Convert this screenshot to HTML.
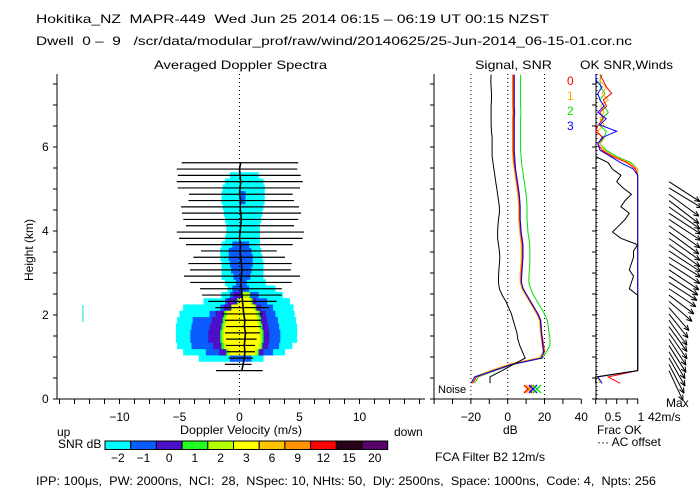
<!DOCTYPE html>
<html><head><meta charset="utf-8"><style>
html,body{margin:0;padding:0;background:#fff;}
svg{display:block;font-family:"Liberation Sans",sans-serif;font-size:12px;}
svg text{white-space:pre;}
</style></head><body>
<svg id="chart" width="700" height="500" viewBox="0 0 700 500" xml:space="preserve">
<text x="36" y="23" textLength="513" lengthAdjust="spacingAndGlyphs">Hokitika_NZ  MAPR-449  Wed Jun 25 2014 06:15 – 06:19 UT 00:15 NZST</text>
<text x="36" y="45" textLength="596" lengthAdjust="spacingAndGlyphs">Dwell  0 –  9   /scr/data/modular_prof/raw/wind/20140625/25-Jun-2014_06-15-01.cor.nc</text>
<text x="154" y="69" textLength="173" lengthAdjust="spacingAndGlyphs">Averaged Doppler Spectra</text>
<text x="475" y="69" textLength="77" lengthAdjust="spacingAndGlyphs">Signal, SNR</text>
<text x="580" y="69" textLength="93" lengthAdjust="spacingAndGlyphs">OK SNR,Winds</text>
<g id="spec"></g>
<g id="sig"></g>
<g id="ok"></g>
<g id="wind"></g>
<g id="cbar"></g>
<text x="57" y="436">up</text>
<text x="180" y="434" textLength="122" lengthAdjust="spacingAndGlyphs">Doppler Velocity (m/s)</text>
<text x="394" y="436">down</text>
<text x="58" y="448">SNR dB</text>
<text x="503" y="434">dB</text>
<text x="597" y="434">Frac OK</text>
<text x="597" y="446">··· AC offset</text>
<text x="435" y="461" textLength="110" lengthAdjust="spacingAndGlyphs">FCA Filter B2 12m/s</text>
<text x="666" y="407">Max</text>
<text x="648" y="421">42m/s</text>
<text x="438" y="393" font-size="11">Noise</text>
<text x="36" y="485" textLength="620" lengthAdjust="spacingAndGlyphs">IPP: 100μs,  PW: 2000ns,  NCI:  28,  NSpec: 10, NHts: 50,  Dly: 2500ns,  Space: 1000ns,  Code: 4,  Npts: 256</text>
</svg>
<script>
// ---------- data ----------
const gateHeights=[0.375,0.525,0.675,0.825,0.975,1.125,1.275,1.425,1.575,1.725,1.875,2.025,2.175,2.325,2.475,2.625,2.775,2.925,3.075,3.225,3.375,3.525,3.675,3.825,3.975,4.125,4.275,4.425,4.575,4.725,4.875,5.025,5.175,5.325,5.475,5.625,5.775,5.925,6.075,6.225,6.375,6.525,6.675,6.825,6.975,7.125,7.275,7.425,7.575,7.725];
const cyanLo=[null,null,null,null,-3.4,-4.7,-5.2,-5.3,-5.3,-5.3,-5.2,-5.0,-4.7,-3.0,-1.5,-1.0,-1.2,-1.5,-1.5,-1.5,-1.6,-1.6,-1.5,-1.2,-1.1,-1.1,-1.2,-1.3,-1.4,-1.5,-1.5,-1.4,-1.2,-0.8];
const cyanHi=[null,null,null,null,2.0,3.8,4.4,4.8,4.8,4.8,4.7,4.6,4.5,4.2,3.6,3.0,2.2,2.0,2.0,2.0,1.9,1.8,1.7,1.7,1.7,1.7,1.8,1.9,2.0,2.1,2.1,2.1,2.0,1.6];
const blueLo=[null,null,null,null,-0.8,-2.8,-4.0,-4.1,-4.1,-4.0,-3.9,-2.5,-1.6,-1.2,-0.8,-0.6,-0.3,-0.5,-0.7,-0.8,-0.9,-0.9,-0.6,null,null,null,null,null,null,0.0,0.0,null,null,null];
const blueHi=[null,null,null,null,1.0,2.8,3.3,3.4,3.4,3.3,3.2,3.0,2.8,2.3,1.6,0.8,0.6,0.9,1.0,1.1,1.1,1.0,0.8,null,null,null,null,null,null,0.5,0.5,null,null,null];
const purpleLo=[null,null,null,null,null,-1.7,-2.2,-2.6,-2.6,-2.5,-2.3,-2.0,-1.3,-1.0,-0.5];
const purpleHi=[null,null,null,null,null,2.0,2.4,2.5,2.5,2.4,2.3,2.2,1.8,1.4,0.9];
const greenLo=[null,null,null,null,null,-1.1,-1.5,-1.6,-1.6,-1.5,-1.4,-1.3,-0.7,-0.2,0.2];
const greenHi=[null,null,null,null,null,1.6,1.9,2.0,2.0,1.9,1.8,1.7,1.4,1.1,0.9];
const limeLo=[null,null,null,null,null,-1.0,-1.3,-1.45,-1.45,-1.35,-1.25,-1.15,-0.65,-0.1,0.3];
const limeHi=[null,null,null,null,null,1.5,1.8,1.85,1.85,1.75,1.65,1.55,1.3,1.0,0.8];
const yellowLo=[null,null,null,null,null,-0.8,-1.1,-1.3,-1.3,-1.2,-1.1,-1.0,-0.6,0.0];
const yellowHi=[null,null,null,null,null,1.3,1.6,1.7,1.7,1.6,1.5,1.4,1.2,0.9];
const widthLo=[null,null,-1.96,-1.21,-0.93,-1.07,-1.12,-1.12,-1.21,-1.12,-1.21,-1.48,-2.01,-2.60,-3.12,-3.29,-4.12,-4.62,-4.12,-4.26,-3.85,-3.21,-4.46,-5.04,-5.23,-4.46,-4.68,-4.79,-4.87,-4.26,-4.21,-5.15,-5.23,-5.15,-5.23,-4.82];
const widthHi=[null,null,1.93,1.01,1.15,1.29,1.29,1.43,1.71,1.79,1.79,1.93,2.46,3.10,3.52,3.52,4.35,5.04,4.27,4.35,3.79,3.10,4.43,5.27,5.38,4.54,4.90,5.13,4.96,4.54,4.43,5.04,5.27,5.10,4.82,4.90];
const meanVel=[null,null,0.2,0.3,0.4,0.45,0.4,0.45,0.5,0.4,0.45,0.35,0.3,0.25,0.2,0.15,0.1,0.15,0.2,0.15,0.1,0.05,0.1,0.0,0.05,0.1,0.15,0.1,0.05,0.1,0.0,0.05,0.1,0.05,0.0,0.1];
const signalDb=[-9.6,-9.6,-3,3,9.5,8,6.5,5.5,5,4,3,2,0.5,-1,-3,-4.5,-5,-5,-4.8,-4.5,-4.3,-4.5,-5,-5.5,-5.5,-5.3,-5,-4.5,-4.5,-5,-5.5,-6,-6.5,-7,-7.5,-8,-8.5,-8.5,-8.5,-8.5,-8.8,-9,-9,-9,-9,-8.8,-8.8,-9,-9.2,-9];
const snr0=[-19,-17,-8,2,18,20,19.5,19,18.5,18.3,18,16.5,14.5,12.5,10.5,8.5,7.3,7.3,7.5,7.8,8,8,8,7.5,7,6.8,6.5,6.5,6.5,6.3,6,5.5,5,4.5,4,3.5,3.3,3,3,3,3,3,3,3.2,3,3,3,3,3,3];
const snr1=[-19.5,-17.5,-8.5,1.5,17.5,19.5,19,18.5,18,17.8,17.5,16,14,12,10,8,7,7,7.2,7.5,7.6,7.6,7.6,7.2,6.8,6.5,6.2,6.2,6.2,6,5.7,5.2,4.8,4.3,3.8,3.3,3,2.8,2.8,2.8,2.8,2.8,2.8,3,2.8,2.8,2.8,2.8,2.8,2.8];
const snr2=[-18,-16,-7,3,19,21,23,23,22.5,22,21.5,20,18,16,14,12.5,11.5,11.5,11.8,12,12,12,12,11.5,11,10.8,10.5,10.5,10.5,10.3,10,9.5,9,8.5,8,7.5,7.3,7,7,7,7,7,7,7.2,7,7,7,7,7,7];
const snr3=[-20,-18,-7.5,2.5,18.5,19.5,19,18.7,18.3,18,17.8,16.3,14.3,12.3,10.3,8.3,7.5,7.6,7.8,8.1,8.3,8.3,8.3,7.8,7.3,7.1,6.8,6.8,6.8,6.6,6.3,5.8,5.3,4.8,4.3,4,3.8,3.6,3.6,3.6,3.6,3.6,3.6,3.8,3.6,3.6,3.6,3.6,3.6,3.6];
const fracWinds=[0,0,1,1,1,1,1,1,1,1,1,1,1,1,1,0.8,0.85,0.9,0.8,0.85,0.9,0.9,1,0.6,0.4,0.55,0.7,0.8,0.6,0.7,0.85,0.65,0.5,0.6,0.4,0.3,0,null,null,null,null,null,null,null,null,null,null,null,null,null];
const frac0=[0.58,0.3,1,1,1,1,1,1,1,1,1,1,1,1,1,1,1,1,1,1,1,1,1,1,1,1,1,1,1,1,1,1,1,1,0.95,0.75,0.4,0.15,0.05,0.18,0,0.06,0.18,0.1,0.26,0.18,0.38,0.26,0.18,0.1];
const frac1=[0.1,0.05,1,1,1,1,1,1,1,1,1,1,1,1,1,1,1,1,1,1,1,1,1,1,1,1,1,1,1,1,1,1,1,1,1,0.8,0.45,0.2,0.1,0.15,0.05,0.2,0.1,0.2,0.12,0.3,0.15,0.25,0.1,0.12];
const frac2=[0.15,0.05,1,1,1,1,1,1,1,1,1,1,1,1,1,1,1,1,1,1,1,1,1,1,1,1,1,1,1,1,1,1,1,1,1,0.85,0.5,0.25,0.1,0.2,0.25,0.08,0.15,0.3,0.2,0.1,0.22,0.12,0.1,0.15];
const frac3=[0.15,0.05,1,1,1,1,1,1,1,1,1,1,1,1,1,1,1,1,1,1,1,1,1,1,1,1,1,1,1,1,1,1,1,1,0.9,0.6,0.35,0.1,0.05,0.15,0.5,0.1,0.25,0.05,0.2,0.1,0.05,0.15,0.02,0.0];
const windU=[null,null,14,15,16,16,17,17,18,18,18,19,20,23,25,27,28,29,30,31,32,32,31,31,30,31,32,32,31,30,30,33,31];
const windV=[null,null,-30,-29,-28,-27,-27,-26,-26,-25,-25,-24,-23,-20,-19,-18,-18,-19,-20,-20,-20,-21,-22,-22,-22,-22,-21,-21,-22,-23,-22,-20,-20];
const cbarLabels=["−2","−1","0","1","2","3","6","9","12","15","20"];
const cbarColors=["#00ffff","#0a5cff","#4c10c8","#22ff22","#b4ff00","#ffff00","#ffc400","#ff9400","#ff0000","#2a0018","#5a006a"];
const velTicks=[-10,-5,0,5,10];
const heightTicks=[0,2,4,6];
const dbTicks=[-20,0,20,40];
// ---------- scales ----------
const NS="http://www.w3.org/2000/svg";
const yH=h=>399-42*h;
const xV=v=>239.5+12*v;
const xDb=d=>507.7+1.84*d;
const xF=f=>595.7+42*f;
function mk(tag,attrs,parent){const e=document.createElementNS(NS,tag);for(const k in attrs)e.setAttribute(k,attrs[k]);parent.appendChild(e);return e;}
const spec=document.getElementById('spec'),sig=document.getElementById('sig'),ok=document.getElementById('ok'),wind=document.getElementById('wind'),cbar=document.getElementById('cbar');
const levels=[[cyanLo,cyanHi,cbarColors[0]],[blueLo,blueHi,cbarColors[1]],[purpleLo,purpleHi,cbarColors[2]],[greenLo,greenHi,cbarColors[3]],[limeLo,limeHi,cbarColors[4]],[yellowLo,yellowHi,cbarColors[5]]];
levels.forEach(([lo,hi,col])=>{
  lo.forEach((l,i)=>{
    if(l===null||hi[i]===null)return;
    const h=gateHeights[i];
    const r=mk('rect',{x:xV(l),y:yH(h+0.075),width:xV(hi[i])-xV(l),height:42*0.15+0.5,fill:col},spec);
    
    
  });
});
const zl=mk('line',{x1:xV(0),y1:74,x2:xV(0),y2:399,stroke:'#000','stroke-dasharray':'1,3'},spec);


widthLo.forEach((l,i)=>{
  if(l===null)return;
  const y=yH(gateHeights[i]);
  const b=mk('line',{x1:xV(l),y1:y,x2:xV(widthHi[i]),y2:y,stroke:'#000','stroke-width':1.2},spec);
  
  
});
let mp='';meanVel.forEach((v,i)=>{if(v===null)return;mp+=(mp?'L':'M')+xV(v)+','+yH(gateHeights[i]);});
const ml=mk('path',{d:mp,fill:'none',stroke:'#000','stroke-width':1.6},spec);


const cl=mk('line',{x1:83,y1:305,x2:83,y2:322,stroke:'#00d8e8'},spec);


const ax1=mk('path',{d:'M57,74V399H425',fill:'none',stroke:'#000'},spec);


for(let k=0;k<=7.5;k+=0.5){
  [57,434,596].forEach(x=>{const t=mk('line',{x1:x-4,y1:yH(k),x2:x,y2:yH(k),stroke:'#000'},spec);
  
  });
}
for(let v=-15;v<=15;v+=1.25){const t=mk('line',{x1:xV(v),y1:399,x2:xV(v),y2:404,stroke:'#000'},spec);
  
  }
heightTicks.forEach(h=>{const t=mk('text',{x:42,y:yH(h)+4},spec);t.textContent=h;
  
  });
velTicks.forEach(v=>{const t=mk('text',{x:xV(v),y:421,'text-anchor':'middle'},spec);t.textContent=v<0?'−'+(-v):v;
  
  });
const yt=mk('text',{x:0,y:0,transform:'translate(33,250) rotate(-90)','text-anchor':'middle'},spec);yt.textContent='Height (km)';


[-20,0,20].forEach(d=>{const l=mk('line',{x1:xDb(d),y1:74,x2:xDb(d),y2:399,stroke:'#000','stroke-dasharray':'1,3'},sig);
  
  });
const ax2=mk('path',{d:'M434,74V399H581',fill:'none',stroke:'#000'},sig);


for(let d=-40;d<=40;d+=10){const t=mk('line',{x1:xDb(d),y1:399,x2:xDb(d),y2:404,stroke:'#000'},sig);
  
  }
dbTicks.forEach(d=>{const t=mk('text',{x:xDb(d),y:421,'text-anchor':'middle'},sig);t.textContent=d<0?'−'+(-d):d;
  
  });
function series(arr,xf,col,parent,name,w){let p='';arr.forEach((v,i)=>{if(v===null)return;p+=(p?'L':'M')+xf(v).toFixed(1)+','+yH(gateHeights[i]).toFixed(1);});
  const e=mk('path',{d:p,fill:'none',stroke:col,'stroke-width':w||1},parent);
  
  }
const sCols=['#ff0000','#ffb000','#00e000','#0000ff'];
series(snr2,xDb,sCols[2],sig,'snr-beam-2');
series(snr1,xDb,sCols[1],sig,'snr-beam-1',2);
series(snr0,xDb,sCols[0],sig,'snr-beam-0');
series(snr3,xDb,sCols[3],sig,'snr-beam-3');
series(signalDb,xDb,'#000',sig,'signal-line');
['0','1','2','3'].forEach((s,i)=>{const t=mk('text',{x:567,y:85+15*i,fill:sCols[i]},sig);t.textContent=s;
  
  });
[[528,sCols[0]],[530,sCols[1]],[533,sCols[3]],[537,sCols[2]]].forEach(([x,c])=>{const g=mk('path',{d:`M${x-4},${385}l8,8M${x+4},385l-8,8`,stroke:c,fill:'none','stroke-width':1.3},sig);
  
  });
const acl=mk('line',{x1:597,y1:74,x2:597,y2:399,stroke:'#000','stroke-dasharray':'1,3'},ok);


const ax3=mk('path',{d:'M596,74V399H638',fill:'none',stroke:'#000'},ok);


for(let f=0;f<=1;f+=0.25){const t=mk('line',{x1:xF(f),y1:399,x2:xF(f),y2:404,stroke:'#000'},ok);
  
  }
[['0.5',613],['1',641]].forEach(([s,x])=>{const t=mk('text',{x:x,y:421,'text-anchor':'middle'},ok);t.textContent=s;
  
  });
series(frac2,xF,sCols[2],ok,'frac-ok-beam-2');
series(frac1,xF,sCols[1],ok,'frac-ok-beam-1');
series(frac0,xF,sCols[0],ok,'frac-ok-beam-0');
series(frac3,xF,sCols[3],ok,'frac-ok-beam-3');
series(fracWinds,xF,'#000',ok,'frac-ok-winds');
windU.forEach((u,i)=>{
  if(u===null)return;
  const x0=669,y0=yH(gateHeights[i]),x1=x0+u,y1=y0-windV[i];
  const a=Math.atan2(y1-y0,x1-x0),L=6;
  const d=`M${x0},${y0}L${x1},${y1}M${x1},${y1}L${x1-L*Math.cos(a-0.4)},${y1-L*Math.sin(a-0.4)}M${x1},${y1}L${x1-L*Math.cos(a+0.4)},${y1-L*Math.sin(a+0.4)}`;
  const e=mk('path',{d:d,stroke:'#000',fill:'none'},wind);
  
  
});
cbarColors.forEach((c,k)=>{const x=105+k*25.7;
  const r=mk('rect',{x:x,y:441,width:25.7,height:8.5,fill:c,stroke:'#000','stroke-width':1},cbar);
  
  
  const t=mk('text',{x:x+12.8,y:462,'text-anchor':'middle'},cbar);t.textContent=cbarLabels[k];
  
  });
</script>
</body></html>
